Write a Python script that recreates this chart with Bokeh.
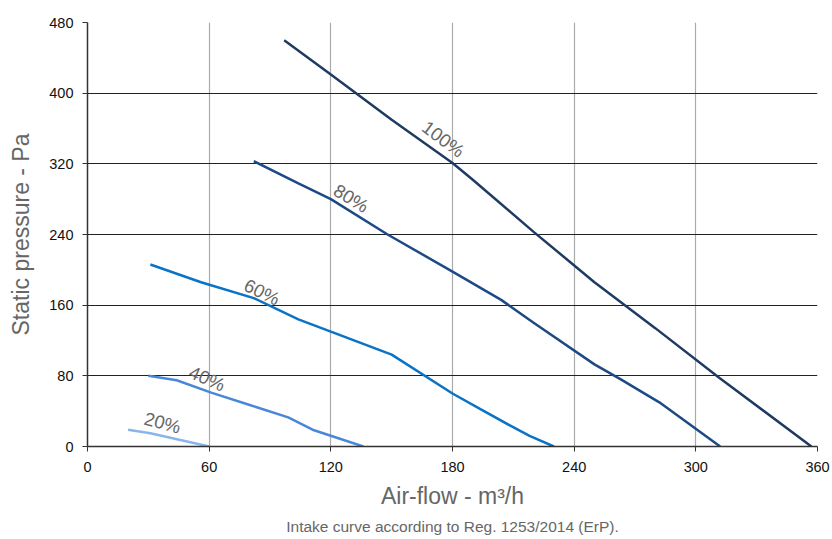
from bokeh.plotting import figure
from bokeh.models import FixedTicker, Title, Range1d
from bokeh.core.properties import value
from bokeh.embed import file_html
from bokeh.resources import INLINE
import math

# Data (air-flow m3/h, static pressure Pa)
x100 = [97, 120, 150, 180, 190, 220, 250, 280, 312, 357]
y100 = [460, 421, 370, 321, 302, 243, 186, 134, 77, 0]
x80 = [82, 104, 120, 148, 180, 204, 220, 250, 263, 282, 312]
y80 = [323, 298, 280, 240, 198, 166, 140, 93, 76, 50, 0]
x60 = [31, 56, 82, 104, 120, 150, 180, 194, 209, 218, 230]
y60 = [206, 186, 168, 144, 130, 104, 60, 42, 23, 12, 0]
x40 = [30, 44, 61, 80, 99, 111, 136]
y40 = [80, 75, 61, 47, 33, 19, 0]
x20 = [20, 31, 60]
y20 = [19, 15, 0]

series = [
    ("100%", x100, y100, "#1f3b63"),
    ("80%", x80, y80, "#1d4a86"),
    ("60%", x60, y60, "#0a73c6"),
    ("40%", x40, y40, "#4a87d8"),
    ("20%", x20, y20, "#8ab5ea"),
]

label_text = ["100%", "80%", "60%", "40%", "20%"]
label_x = [175.5, 130, 86, 59, 37]
label_y = [348, 281, 175, 77, 27]
label_deg = [-37, -31, -26, -24, -15]

x_ticks = [0, 60, 120, 180, 240, 300, 360]
y_ticks = [0, 80, 160, 240, 320, 400, 480]

FONT = "Liberation Sans"

p = figure(width=832, height=539, output_backend="svg", toolbar_location=None,
           x_range=Range1d(0, 360), y_range=Range1d(0, 480),
           min_border_left=87, min_border_right=15, min_border_top=22, min_border_bottom=40)
p.outline_line_color = None
p.background_fill_color = "white"

p.xaxis.ticker = FixedTicker(ticks=x_ticks)
p.yaxis.ticker = FixedTicker(ticks=y_ticks)
for ax in (p.xaxis, p.yaxis):
    ax.axis_line_color = "#333333"
    ax.axis_line_width = 1.5
    ax.major_tick_line_color = "#333333"
    ax.major_tick_in = 0
    ax.major_tick_out = 5
    ax.minor_tick_line_color = None
    ax.major_label_text_font = FONT
    ax.major_label_text_font_size = "14.5px"
    ax.major_label_text_color = "#111111"
    ax.axis_label_text_font = FONT
    ax.axis_label_text_font_size = "23px"
    ax.axis_label_text_font_style = "normal"
    ax.axis_label_text_color = "#666666"

p.xaxis.axis_label = "Air-flow - m³/h"
p.yaxis.axis_label = "Static pressure - Pa"
p.xaxis.axis_label_standoff = 8
p.yaxis.axis_label_standoff = 12
p.xaxis.major_label_standoff = 10
p.yaxis.major_label_standoff = 9

p.xgrid.grid_line_color = "#aaaaaa"
p.xgrid.grid_line_width = 1.2
p.ygrid.grid_line_color = "#222222"
p.ygrid.grid_line_width = 1.2

for name, xs, ys, col in series:
    p.line(xs, ys, line_color=col, line_width=2.5)

p.text(x=label_x, y=label_y, text=label_text,
       angle=[math.radians(d) for d in label_deg],
       text_font=value(FONT), text_font_size="18.5px", text_color="#666666",
       text_align="center", text_baseline="middle")

cap = Title(text="Intake curve according to Reg. 1253/2014 (ErP).", align="center",
            text_font=FONT, text_font_size="15.5px", text_font_style="normal",
            text_color="#666666", offset=0, standoff=9)
p.add_layout(cap, "below")

open("out.html", "w").write(file_html(p, INLINE))
